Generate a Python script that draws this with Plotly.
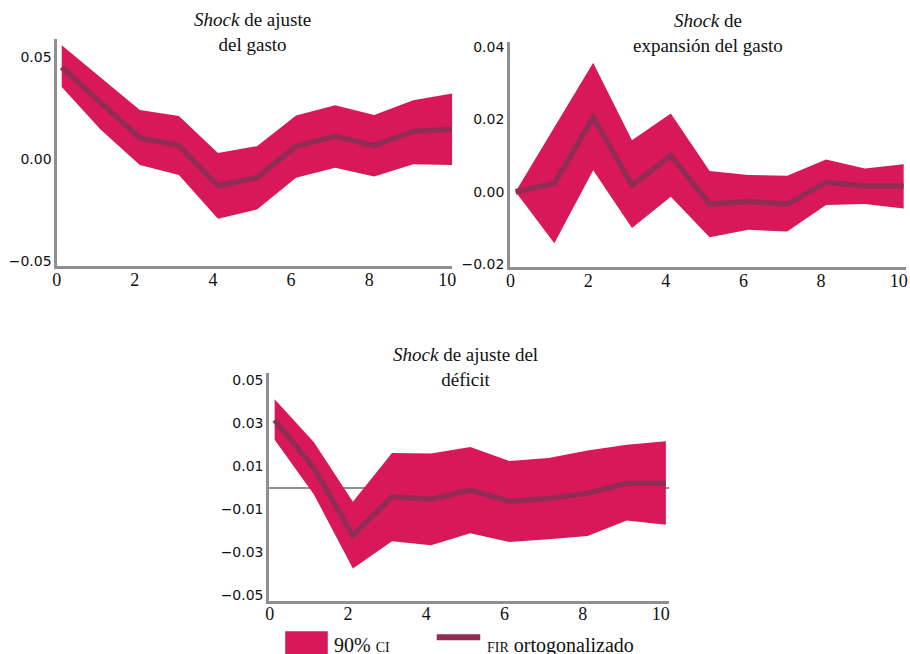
import plotly.graph_objects as go

# ---------------- data ----------------
horizon = [0, 1, 2, 3, 4, 5, 6, 7, 8, 9, 10]

# Shock de ajuste del gasto
p1_fir = [0.0452, 0.0274, 0.0105, 0.0069, -0.0129, -0.0089, 0.0065, 0.0113, 0.0068, 0.0137, 0.0148]
p1_hi = [0.0560, 0.0402, 0.0242, 0.0213, 0.0032, 0.0065, 0.0215, 0.0266, 0.0218, 0.0290, 0.0323]
p1_lo = [0.0355, 0.0145, -0.0027, -0.0076, -0.0290, -0.0245, -0.0089, -0.0040, -0.0084, -0.0024, -0.0027]

# Shock de expansión del gasto
p2_fir = [0.0000, 0.0023, 0.0205, 0.0018, 0.0100, -0.0034, -0.0027, -0.0034, 0.0026, 0.0016, 0.0016]
p2_hi = [0.0000, 0.0180, 0.0356, 0.0142, 0.0216, 0.0057, 0.0046, 0.0044, 0.0089, 0.0064, 0.0076]
p2_lo = [0.0000, -0.0142, 0.0059, -0.0100, -0.0014, -0.0126, -0.0105, -0.0110, -0.0037, -0.0034, -0.0046]

# Shock de ajuste del déficit
p3_fir = [0.0314, 0.0092, -0.0222, -0.0043, -0.0054, -0.0012, -0.0064, -0.0051, -0.0026, 0.0020, 0.0020]
p3_hi = [0.0411, 0.0212, -0.0066, 0.0161, 0.0158, 0.0189, 0.0123, 0.0138, 0.0172, 0.0199, 0.0215]
p3_lo = [0.0222, -0.0031, -0.0376, -0.0250, -0.0268, -0.0212, -0.0253, -0.0241, -0.0225, -0.0153, -0.0173]

titles = ["<i>Shock</i> de ajuste<br>del gasto",
          "<i>Shock</i> de<br>expansión del gasto",
          "<i>Shock</i> de ajuste del<br>déficit"]

x_ticks = [0, 2, 4, 6, 8, 10]
p1_yticks = [-0.05, 0.0, 0.05]
p2_yticks = [-0.02, 0.0, 0.02, 0.04]
p3_yticks = [-0.05, -0.03, -0.01, 0.01, 0.03, 0.05]

legend_labels = ["90% <span style='font-size:14px'>CI</span>",
                 "<span style='font-size:14px'>FIR</span> ortogonalizado"]

# ---------------- style ----------------
BAND = "#D9185A"
LINE = "#922C55"
AXIS = "#8F8F8F"
SERIF = "Liberation Serif"
SANS = "DejaVu Sans"

fig = go.Figure()

panels = [
    (p1_fir, p1_hi, p1_lo, "x", "y"),
    (p2_fir, p2_hi, p2_lo, "x2", "y2"),
    (p3_fir, p3_hi, p3_lo, "x3", "y3"),
]

for fir, hi, lo, xa, ya in panels:
    fig.add_trace(go.Scatter(x=horizon + horizon[::-1], y=hi + lo[::-1], fill="toself",
                             fillcolor=BAND, line=dict(width=0, color=BAND), mode="lines",
                             xaxis=xa, yaxis=ya, showlegend=False, hoverinfo="skip"))
    fig.add_trace(go.Scatter(x=horizon, y=fir, mode="lines",
                             line=dict(color=LINE, width=5.5),
                             xaxis=xa, yaxis=ya, showlegend=False))

def xaxis(domain, rng, anchor):
    return dict(domain=domain, range=rng, anchor=anchor, showgrid=False, zeroline=False,
                showline=True, linecolor=AXIS, linewidth=2.5, ticks="",
                tickvals=x_ticks, ticklabelshift=-5, ticklabelstandoff=-5,
                tickfont=dict(family=SERIF, size=18, color="#111"))

def yaxis(domain, rng, anchor, tickvals, zl=False):
    return dict(domain=domain, range=rng, anchor=anchor, showgrid=False,
                zeroline=zl, zerolinecolor=AXIS, zerolinewidth=2,
                showline=True, linecolor=AXIS, linewidth=2.5, ticks="",
                tickvals=tickvals, tickformat=".2f",
                tickfont=dict(family=SANS, size=14, color="#111"))

fig.update_layout(
    width=910, height=654,
    margin=dict(l=0, r=0, t=0, b=0),
    plot_bgcolor="white", paper_bgcolor="white",
    showlegend=False,
    xaxis=xaxis([0.0579, 0.4964], [-0.117, 10.0], "y"),
    yaxis=yaxis([0.5922, 0.9439], [-0.0524, 0.0589], "x", p1_yticks),
    xaxis2=xaxis([0.5604, 1.0], [-0.145, 10.06], "y2"),
    yaxis2=yaxis([0.5907, 0.9399], [-0.0209, 0.0414], "x2", p2_yticks),
    xaxis3=xaxis([0.2931, 0.7374], [-0.142, 10.09], "y3"),
    yaxis3=yaxis([0.0749, 0.4266], [-0.0526, 0.0531], "x3", p3_yticks, zl=True),
)

# panel titles
for txt, xc, yc in [(titles[0], 250, 29), (titles[1], 710, 30), (titles[2], 465, 369)]:
    fig.add_annotation(text=txt, x=xc / 910, y=1 - yc / 654, xref="paper", yref="paper",
                       showarrow=False, xanchor="center", yanchor="middle",
                       font=dict(family=SERIF, size=19, color="#111"), align="center")

# legend (manual, partly cut at bottom like the reference)
fig.add_shape(type="rect", xref="paper", yref="paper",
              x0=283 / 910, x1=326 / 910, y0=1 - 660 / 654, y1=1 - 636 / 654,
              fillcolor=BAND, line=dict(width=0))
fig.add_shape(type="line", xref="paper", yref="paper",
              x0=436 / 910, x1=480 / 910, y0=1 - 642 / 654, y1=1 - 642 / 654,
              line=dict(color=LINE, width=6))
fig.add_annotation(text=legend_labels[0], x=330 / 910, y=1 - 650 / 654, xref="paper", yref="paper",
                   showarrow=False, xanchor="left", yanchor="middle",
                   font=dict(family=SERIF, size=20, color="#111"))
fig.add_annotation(text=legend_labels[1], x=485 / 910, y=1 - 650 / 654, xref="paper", yref="paper",
                   showarrow=False, xanchor="left", yanchor="middle",
                   font=dict(family=SERIF, size=20, color="#111"))

fig.write_html("out.html", config={"displayModeBar": False},
               post_script="document.body.style.margin='0';")
